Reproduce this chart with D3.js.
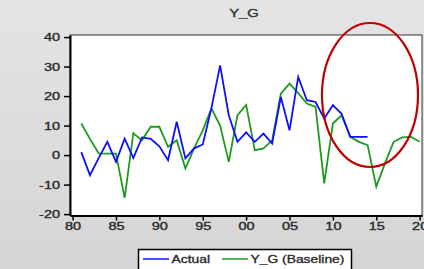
<!DOCTYPE html>
<html>
<head>
<meta charset="utf-8">
<script src="https://cdn.jsdelivr.net/npm/d3@7"></script>
<style>
  html, body { margin: 0; padding: 0; overflow: hidden; }
  svg { display: block; font-family: "Liberation Sans", Arial, sans-serif; }
  svg text { stroke: #333; stroke-width: 0.35px; }
</style>
</head>
<body>
<div id="chart"></div>
<script>
// chart data
let years = [1981, 1982, 1983, 1984, 1985, 1986, 1987, 1988, 1989, 1990,
    1991, 1992, 1993, 1994, 1995, 1996, 1997, 1998, 1999, 2000,
    2001, 2002, 2003, 2004, 2005, 2006, 2007, 2008, 2009, 2010,
    2011, 2012, 2013, 2014, 2015, 2016, 2017, 2018, 2019, 2020];

// Actual stops at 2014
let actual = [1, -6.8, -1, 4.5, -2.3, 5.6, -1, 6, 5.5, 3,
    -1.7, 11.3, -1.1, 2.3, 3.6, 15.9, 30.4, 13.5, 4.5, 7.7,
    4.5, 7.3, 3.9, 19.7, 8.4, 26.5, 18.6, 18, 12.4, 16.9,
    14, 6.2, 6.2, 6.2];

let baseline = [10.7, 5.5, 0.6, 0.5, 0.5, -14.5, 7.4, 5, 9.6, 9.6,
    2.8, 5, -4.5, 2.3, 8.4, 15.8, 10, -2.3, 13.5, 17,
    1.7, 2.3, 5, 20.8, 24.2, 21, 17.5, 16.3, -9.6, 10.7,
    13.5, 6.2, 4.5, 3.4, -10.7, -2.8, 4.5, 6, 6.2, 4.5];

let xTickValues = [1980, 1985, 1990, 1995, 2000, 2005, 2010, 2015, 2020];
let xTickLabels = ["80", "85", "90", "95", "00", "05", "10", "15", "20"];
let yTickValues = [-20, -10, 0, 10, 20, 30, 40];

let seriesNames = ["Actual", "Y_G (Baseline)"];
let chartTitle = "Y_G";

// sizes
let svgWidth = 424;
let svgHeight = 269;

let plot = { left: 70, top: 35, right: 422, bottom: 215.5 };

var svg = d3.select("#chart")
    .append("svg")
    .attr("width", svgWidth)
    .attr("height", svgHeight);

// grey gradient background
var defs = svg.append("defs");
var grad = defs.append("linearGradient")
    .attr("id", "bg")
    .attr("x1", 0).attr("y1", 0)
    .attr("x2", 0).attr("y2", 1);
grad.append("stop").attr("offset", "0%").attr("stop-color", "#e4e4e4");
grad.append("stop").attr("offset", "100%").attr("stop-color", "#d5d5d5");

svg.append("rect")
    .attr("width", svgWidth)
    .attr("height", svgHeight)
    .attr("fill", "url(#bg)");

// scales
var xScale = d3.scaleLinear()
    .domain([1979.7, 2020.27])
    .range([plot.left, plot.right]);

var yScale = d3.scaleLinear()
    .domain([-20.3, 40.7])
    .range([215, 35]);

// white plot area with thin frame
svg.append("rect")
    .attr("x", plot.left)
    .attr("y", plot.top)
    .attr("width", plot.right - plot.left)
    .attr("height", plot.bottom - plot.top)
    .attr("fill", "white")
    .attr("stroke", "#333")
    .attr("stroke-width", 1);

// text is drawn wide and short in the original
let stretch = 1.45;

// y axis
var leftAxis = d3.axisLeft(yScale)
    .tickValues(yTickValues)
    .tickSize(6)
    .tickSizeOuter(0)
    .tickFormat(d => d);

var yAxis = svg.append("g")
    .attr("transform", `translate(${plot.left}, 0)`)
    .call(leftAxis);

yAxis.select(".domain")
    .attr("stroke", "black")
    .attr("stroke-width", 2);
yAxis.selectAll(".tick line")
    .attr("stroke", "black")
    .attr("stroke-width", 1.5);
yAxis.selectAll(".tick text")
    .attr("font-size", "10px")
    .attr("fill", "#222")
    .attr("x", -10 / stretch)
    .attr("dy", "0.36em")
    .attr("transform", `scale(${stretch},1)`);

// x axis
var bottomAxis = d3.axisBottom(xScale)
    .tickValues(xTickValues)
    .tickSize(5)
    .tickSizeOuter(0)
    .tickFormat((d, i) => xTickLabels[i]);

var xAxis = svg.append("g")
    .attr("transform", `translate(0, ${plot.bottom})`)
    .call(bottomAxis);

xAxis.select(".domain")
    .attr("stroke", "black")
    .attr("stroke-width", 2);
xAxis.selectAll(".tick line")
    .attr("stroke", "black")
    .attr("stroke-width", 1.5);
xAxis.selectAll(".tick text")
    .attr("font-size", "10px")
    .attr("fill", "#222")
    .attr("y", 12)
    .attr("dy", "0.3em")
    .attr("transform", `scale(${stretch},1)`);

// lines
var line = d3.line()
    .x(d => xScale(d[0]))
    .y(d => yScale(d[1]));

var blue = "#0f0fff";
var green = "#1f9a1f";

svg.append("path")
    .datum(d3.zip(years, baseline))
    .attr("d", line)
    .attr("fill", "none")
    .attr("stroke", green)
    .attr("stroke-width", 1.8);

svg.append("path")
    .datum(d3.zip(years.slice(0, actual.length), actual))
    .attr("d", line)
    .attr("fill", "none")
    .attr("stroke", blue)
    .attr("stroke-width", 1.8);

// title
svg.append("text")
    .attr("transform", `translate(244, 17) scale(1.35,1)`)
    .attr("text-anchor", "middle")
    .attr("font-size", "11px")
    .attr("fill", "#333")
    .text(chartTitle);

// red ellipse annotation
svg.append("ellipse")
    .attr("cx", 370)
    .attr("cy", 95)
    .attr("rx", 48)
    .attr("ry", 72)
    .attr("fill", "none")
    .attr("stroke", "#c00000")
    .attr("stroke-width", 2.2);

// legend
var legend = svg.append("g");

legend.append("rect")
    .attr("x", 138.5)
    .attr("y", 249.5)
    .attr("width", 213)
    .attr("height", 30)
    .attr("fill", "white")
    .attr("stroke", "black")
    .attr("stroke-width", 1.5);

var legendItems = [
    { name: seriesNames[0], color: blue, x: 143 },
    { name: seriesNames[1], color: green, x: 222 }
];

legendItems.forEach(function(item) {
    legend.append("line")
        .attr("x1", item.x)
        .attr("x2", item.x + 26)
        .attr("y1", 259)
        .attr("y2", 259)
        .attr("stroke", item.color)
        .attr("stroke-width", 1.5);

    legend.append("text")
        .attr("transform", `translate(${item.x + 28.5}, 263) scale(1.26,1)`)
        .attr("font-size", "11px")
        .attr("fill", "#222")
        .text(item.name);
});
</script>
</body>
</html>
